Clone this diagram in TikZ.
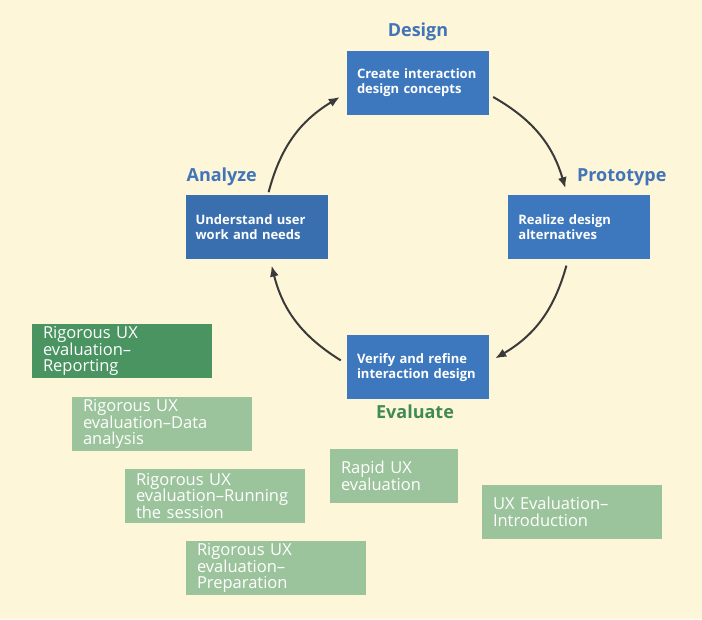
\documentclass[tikz,border=0pt]{standalone}
\usepackage{fontspec}
\setmainfont{Open Sans}
\usepackage{xcolor}
\usetikzlibrary{arrows.meta,positioning}

\definecolor{paper}{HTML}{FDF6D8}
\definecolor{stepblue}{HTML}{3D78BE}
\definecolor{darkstepblue}{HTML}{396FAF}
\definecolor{headblue}{HTML}{4174B8}
\definecolor{headgreen}{HTML}{3F8A55}
\definecolor{topicgreen}{HTML}{4A9462}
\definecolor{palegreen}{HTML}{9CC49C}
\definecolor{arrowgray}{HTML}{3A3A3A}

\begin{document}
\begin{tikzpicture}[x=1pt, y=1pt,
  node distance=6pt,
  stepbox/.style={rectangle, fill=stepblue, text=white, align=left,
              font=\fontsize{13}{15}\selectfont\bfseries,
              minimum width=142pt, minimum height=64pt, text width=122pt,
              inner xsep=10pt, inner ysep=2pt},
  topic/.style={rectangle, fill=palegreen, text=white, align=left,
              font=\fontsize{16.5}{16.5}\selectfont,
              minimum width=180pt, minimum height=54pt, text width=158pt,
              inner xsep=11pt, inner ysep=1pt},
  head/.style={font=\fontsize{18}{20}\selectfont\bfseries, text=headblue, inner sep=1pt},
  arr/.style={-{Latex[length=11pt, width=9pt]}, draw=arrowgray, line width=2pt}]

\fill[paper] (0,0) rectangle (702,-619);
\useasboundingbox (0,0) rectangle (702,-619);

\node[stepbox] (design) at (418,-83) {Create interaction\\design concepts};
\node[stepbox, fill=darkstepblue, below left=80pt and 19pt of design] (analyze) {Understand user\\work and needs};
\node[stepbox, below right=80pt and 19pt of design] (prototype) {Realize design\\alternatives};
\node[stepbox, below=220pt of design] (evaluate) {Verify and refine\\interaction design};

\node[head, above=9pt of design] (designlbl) {Design};
\node[head, above=8pt of analyze.north west, anchor=south west] (analyzelbl) {Analyze};
\node[head, above=8pt of prototype.north east, anchor=south east, xshift=17pt] (prototypelbl) {Prototype};
\node[head, text=headgreen, below=4pt of evaluate, xshift=-3pt] (evaluatelbl) {Evaluate};

\node[topic, fill=topicgreen] (reporting) at (122,-351) {Rigorous UX\\evaluation--\\Reporting};
\node[topic] (analysis) at (162,-424) {Rigorous UX\\evaluation--Data\\analysis};
\node[topic] (session) at (215,-496) {Rigorous UX\\evaluation--Running\\the session};
\node[topic] (preparation) at (276,-568) {Rigorous UX\\evaluation--\\Preparation};
\node[topic, minimum width=128pt, text width=106pt] (rapid) at (394,-476) {Rapid UX\\evaluation};
\node[topic] (intro) at (572,-512) {UX Evaluation--\\Introduction};

\draw[arr] ([xshift=12pt,yshift=3pt]analyze.north) to[bend left=22] ([xshift=-7pt,yshift=-14pt]design.west);
\draw[arr] ([xshift=4pt,yshift=-14pt]design.east) to[bend left=22] ([xshift=-14pt,yshift=7pt]prototype.north);
\draw[arr] ([xshift=-13pt,yshift=-6pt]prototype.south) to[bend left=22] ([xshift=6pt,yshift=9pt]evaluate.east);
\draw[arr] ([xshift=-6pt,yshift=7pt]evaluate.west) to[bend left=22] ([xshift=15pt,yshift=-6pt]analyze.south);
\end{tikzpicture}
\end{document}
